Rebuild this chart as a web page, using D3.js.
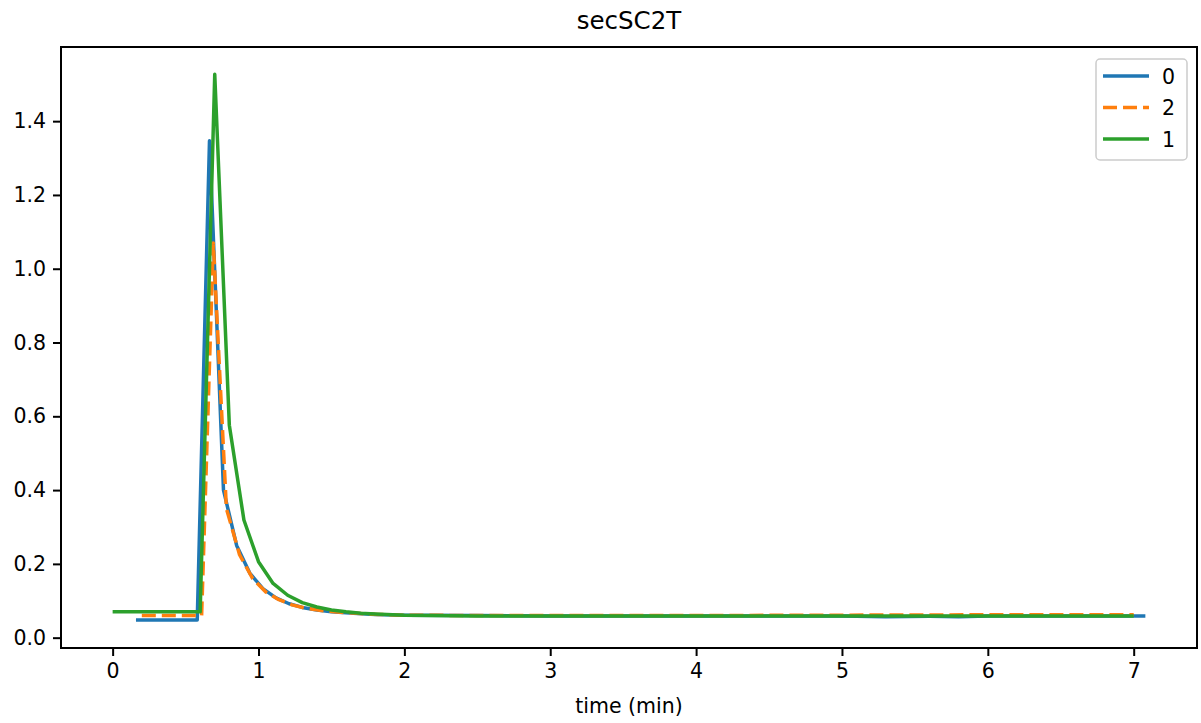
<!DOCTYPE html>
<html>
<head>
<meta charset="utf-8">
<script src="https://cdn.jsdelivr.net/npm/d3@7"></script>
<style>
body { margin: 0; background: #fff; }
text { font-family: "DejaVu Sans", sans-serif; fill: #000; }
</style>
</head>
<body>
<div id="chart"></div>
<script>
var width = 1201;
var height = 723;

// series "0"
var t0 = [0.16, 0.58, 0.664, 0.76, 0.85, 0.94, 1.03, 1.12, 1.21, 1.30, 1.40, 1.50, 1.65, 1.80, 2.0, 2.5, 3.0, 3.5, 4.0, 4.5, 5.0, 5.3, 5.6, 5.8, 6.0, 6.5, 7.08];
var v0 = [0.048, 0.048, 1.347, 0.40, 0.25, 0.175, 0.133, 0.108, 0.092, 0.082, 0.075, 0.07, 0.066, 0.063, 0.061, 0.06, 0.059, 0.059, 0.059, 0.059, 0.059, 0.057, 0.058, 0.057, 0.059, 0.059, 0.059];

// series "2"
var t2 = [0.2, 0.61, 0.69, 0.78, 0.87, 0.96, 1.05, 1.14, 1.23, 1.32, 1.42, 1.52, 1.67, 1.82, 2.0, 2.5, 3.0, 4.0, 5.0, 6.0, 7.0];
var v2 = [0.06, 0.06, 1.07, 0.35, 0.225, 0.16, 0.124, 0.103, 0.089, 0.08, 0.074, 0.07, 0.066, 0.063, 0.061, 0.06, 0.06, 0.06, 0.061, 0.062, 0.062];

// series "1"
var t1 = [0, 0.6, 0.7, 0.8, 0.9, 1.0, 1.1, 1.2, 1.3, 1.4, 1.5, 1.6, 1.7, 1.8, 2.0, 2.5, 3.0, 4.0, 5.0, 6.0, 7.0];
var v1 = [0.07, 0.07, 1.527, 0.576, 0.319, 0.206, 0.147, 0.115, 0.095, 0.083, 0.075, 0.07, 0.066, 0.064, 0.061, 0.059, 0.059, 0.059, 0.059, 0.059, 0.059];

var xTicks = [0, 1, 2, 3, 4, 5, 6, 7];
var yTicks = [0.0, 0.2, 0.4, 0.6, 0.8, 1.0, 1.2, 1.4];

var series = [
    {name: "0", t: t0, v: v0, color: "#1f77b4", dash: null},
    {name: "2", t: t2, v: v2, color: "#ff7f0e", dash: "14,6"},
    {name: "1", t: t1, v: v1, color: "#2ca02c", dash: null}
];

var mLeft = 61, mRight = 1197, mTop = 47, mBottom = 648;

var svg = d3.select("#chart")
    .append("svg")
    .attr("width", width)
    .attr("height", height);

var x = d3.scaleLinear()
    .domain([-0.354, 7.434])
    .range([mLeft, mRight]);

var y = d3.scaleLinear()
    .domain([-0.028, 1.601])
    .range([mBottom, mTop]);

var line = d3.line()
    .x(function(d) { return x(d[0]); })
    .y(function(d) { return y(d[1]); });

series.forEach(function(s) {
    var pts = s.t.map(function(t, i) { return [t, s.v[i]]; });
    svg.append("path")
        .datum(pts)
        .attr("fill", "none")
        .attr("stroke", s.color)
        .attr("stroke-width", 3.5)
        .attr("stroke-linejoin", "round")
        .attr("stroke-dasharray", s.dash)
        .attr("d", line);
});

var xAxis = svg.append("g")
    .attr("transform", "translate(0," + mBottom + ")")
    .call(d3.axisBottom(x).tickValues(xTicks).tickFormat(d3.format("d")).tickSizeOuter(0).tickSize(8).tickPadding(7));

var yAxis = svg.append("g")
    .attr("transform", "translate(" + mLeft + ",0)")
    .call(d3.axisLeft(y).tickValues(yTicks).tickFormat(d3.format(".1f")).tickSizeOuter(0).tickSize(8).tickPadding(7));

[xAxis, yAxis].forEach(function(a) {
    a.select(".domain").remove();
    a.selectAll("line").attr("stroke", "#000").attr("stroke-width", 2);
    a.selectAll("text").style("font-size", "20.5px").attr("fill", "#000");
});

// frame
svg.append("rect")
    .attr("x", mLeft)
    .attr("y", mTop)
    .attr("width", mRight - mLeft)
    .attr("height", mBottom - mTop)
    .attr("fill", "none")
    .attr("stroke", "#000")
    .attr("stroke-width", 2);

svg.append("text")
    .attr("x", (mLeft + mRight) / 2)
    .attr("y", 29)
    .attr("text-anchor", "middle")
    .style("font-size", "24.5px")
    .text("secSC2T");

svg.append("text")
    .attr("x", (mLeft + mRight) / 2)
    .attr("y", 713)
    .attr("text-anchor", "middle")
    .style("font-size", "20.5px")
    .text("time (min)");

// legend
var legend = svg.append("g");
legend.append("rect")
    .attr("x", 1096)
    .attr("y", 59)
    .attr("width", 91)
    .attr("height", 101)
    .attr("rx", 4)
    .attr("fill", "#fff")
    .attr("fill-opacity", 0.8)
    .attr("stroke", "#ccc")
    .attr("stroke-width", 1.5);

series.forEach(function(s, i) {
    var ly = 76 + i * 31.5;
    legend.append("line")
        .attr("x1", 1103)
        .attr("x2", 1149)
        .attr("y1", ly)
        .attr("y2", ly)
        .attr("stroke", s.color)
        .attr("stroke-width", 3.5)
        .attr("stroke-dasharray", s.dash);
    legend.append("text")
        .attr("x", 1162)
        .attr("y", ly + 7.5)
        .style("font-size", "20.5px")
        .text(s.name);
});
</script>
</body>
</html>
